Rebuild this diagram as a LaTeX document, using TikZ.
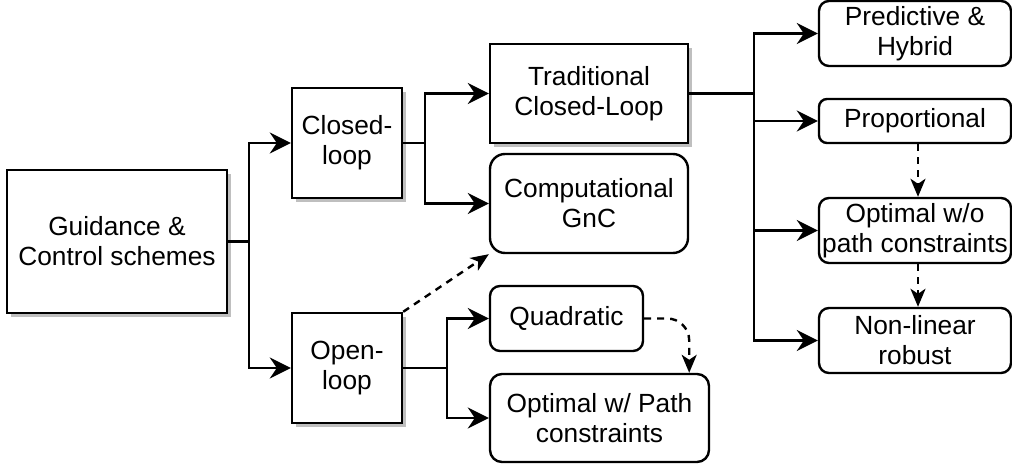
\documentclass[tikz,border=0pt]{standalone}
\usepackage{fontspec}
\setmainfont{Liberation Sans}
\usetikzlibrary{arrows.meta,shadows,calc}
\tikzset{
  box/.style={draw, line width=2.4pt, inner sep=0pt, align=center, fill=white,
    font=\fontsize{26.3}{30}\selectfont},
  sbox/.style={box, drop shadow={shadow xshift=4pt, shadow yshift=-4pt, fill=black!25, opacity=1}},
  rbox/.style={box, rounded corners=#1},
  arr/.style={line width=2.4pt, -{Stealth[length=21pt,width=21pt,inset=7pt]}},
  darr/.style={line width=2.4pt, dash pattern=on 7pt off 6pt, -{Stealth[length=18pt,width=15pt,inset=5pt]}}
}
\begin{document}
\begin{tikzpicture}[x=1pt,y=-1pt]
\useasboundingbox (0,0) rectangle (1012,465);
% left
\node[sbox, minimum width=220pt, minimum height=143pt] (g) at (117,241.5) {Guidance \&\\Control schemes};
\node[sbox, minimum width=110pt, minimum height=110pt] (cl) at (347,143) {Closed-\\loop};
\node[sbox, minimum width=110pt, minimum height=110pt] (ol) at (347,368) {Open-\\loop};
% middle
\node[sbox, minimum width=198pt, minimum height=99pt] (tr) at (589,93.5) {Traditional\\Closed-Loop};
\node[rbox=15pt, minimum width=198pt, minimum height=99pt] (cg) at (589,203.5) {Computational\\GnC};
\node[rbox=10pt, minimum width=153pt, minimum height=65pt] (qu) at (566.5,318.5) {Quadratic};
\node[rbox=12pt, minimum width=219pt, minimum height=88pt] (op) at (599.5,418) {Optimal w/ Path\\constraints};
% right column
\node[rbox=10pt, minimum width=192pt, minimum height=65pt] (pr) at (915,33.5) {Predictive \&\\Hybrid};
\node[rbox=8pt, minimum width=192pt, minimum height=44pt] (pp) at (915,121) {Proportional};
\node[rbox=10pt, minimum width=192pt, minimum height=65pt] (ow) at (915,230.5) {Optimal w/o\\path constraints};
\node[rbox=10pt, minimum width=192pt, minimum height=65pt] (nl) at (915,340.5) {Non-linear\\robust};
% connectors
\draw[arr] (g.east) -- ++(21,0) |- (cl.west);
\draw[arr] (g.east) -- ++(21,0) |- (ol.west);
\draw[arr] (cl.east) -- ++(22,0) |- (tr.west);
\draw[arr] (cl.east) -- ++(22,0) |- (cg.west);
\draw[arr] (ol.east) -- ++(44,0) |- (qu.west);
\draw[arr] (ol.east) -- ++(44,0) |- (op.west);
\draw[arr] (tr.east) -- ++(65,0) |- (pr.west);
\draw[arr] (tr.east) -- ++(65,0) |- (pp.west);
\draw[arr] (tr.east) -- ++(65,0) |- (ow.west);
\draw[arr] (tr.east) -- ++(65,0) |- (nl.west);
\draw[darr] (ol.north east) -- (cg.south west);
\draw[darr] ([xshift=3pt]pp.south) -- ([xshift=3pt]ow.north);
\draw[darr] ([xshift=3pt]ow.south) -- ([xshift=3pt]nl.north);
\draw[darr, rounded corners=22pt] (qu.east) -| ([xshift=-21pt]op.north east);
\end{tikzpicture}
\end{document}
